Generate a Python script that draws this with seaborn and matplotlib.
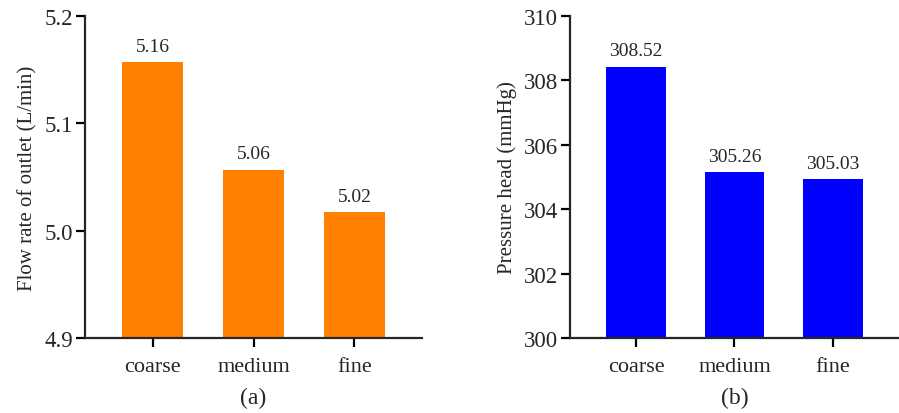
import pandas as pd
import seaborn as sns
import matplotlib.pyplot as plt

# Mesh sensitivity data
meshes = ['coarse', 'medium', 'fine']
flow_rate = [5.157, 5.057, 5.017]
flow_labels = ['5.16', '5.06', '5.02']
pressure = [308.42, 305.15, 304.93]
pressure_labels = ['308.52', '305.26', '305.03']

flow_df = pd.DataFrame({'mesh': meshes, 'value': flow_rate})
pres_df = pd.DataFrame({'mesh': meshes, 'value': pressure})

sns.set_style('ticks')
plt.rcParams['font.family'] = ['Liberation Serif', 'DejaVu Serif']
plt.rcParams['axes.linewidth'] = 1.6

fig = plt.figure(figsize=(8.99, 4.14), dpi=100)
ax1 = fig.add_axes([0.0945, 0.181, 0.375, 0.778])
ax2 = fig.add_axes([0.634, 0.181, 0.366, 0.778])

panels = [
    (ax1, flow_df, flow_labels, '#FF8000', 'Flow rate of outlet (L/min)', (4.9, 5.2), [4.9, 5.0, 5.1, 5.2], '(a)', '{:.1f}'),
    (ax2, pres_df, pressure_labels, '#0000FF', 'Pressure head (mmHg)', (300, 310), [300, 302, 304, 306, 308, 310], '(b)', '{:.0f}'),
]

for ax, df, labels, color, ylabel, ylim, yticks, tag, fmt in panels:
    sns.barplot(data=df, x='mesh', y='value', color=color, width=0.6,
                saturation=1, edgecolor='none', ax=ax)
    ax.set_ylim(*ylim)
    ax.set_yticks(yticks)
    ax.set_yticklabels([fmt.format(t) for t in yticks])
    ax.set_xlim(-0.67, 2.67)
    ax.set_ylabel(ylabel, fontsize=15, labelpad=5)
    ax.set_xlabel(tag, fontsize=17, labelpad=8)
    ax.tick_params(axis='both', length=6.5, width=1.6, color='black')
    ax.tick_params(axis='y', labelsize=16.5, pad=2)
    ax.tick_params(axis='x', labelsize=16, pad=7)
    for patch, lab in zip(ax.patches, labels):
        ax.annotate(lab, (patch.get_x() + patch.get_width() / 2, patch.get_height()),
                    xytext=(0, 5.5), textcoords='offset points',
                    ha='center', va='bottom', fontsize=14)
    sns.despine(ax=ax)

plt.savefig('out.png', dpi=100)
